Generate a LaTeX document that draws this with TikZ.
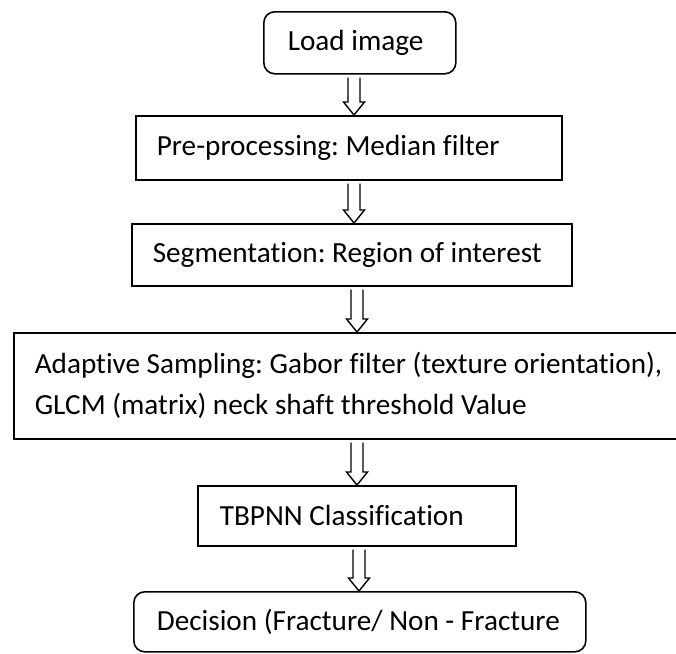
\documentclass[tikz,border=0pt]{standalone}
\usepackage{fontspec}
\setmainfont[Ligatures=NoCommon]{Carlito}
\usetikzlibrary{calc}
\frenchspacing
\begin{document}
\begin{tikzpicture}[x=1pt,y=-1pt,
  stepbox/.style={draw, line width=1.6pt, anchor=north west, inner ysep=0pt,
    font=\fontsize{29.2}{41}\selectfont},
  hollow/.style={draw, line width=1.4pt, fill=white, line join=miter}]
\clip (0,0) rectangle (676,653);
\fill[white] (0,0) rectangle (676,653);

% left-set text in a box of fixed inner width, never wrapped
\newcommand\inl[2]{\makebox[#1][l]{#2}}

\node[stepbox, rounded corners=11pt, inner xsep=24pt, minimum height=62pt]
  (load) at (263,11) {\inl{144pt}{Load image}};
\node[stepbox, inner xsep=21pt, minimum height=64pt]
  (pre) at (135,115) {\inl{384pt}{Pre-processing: Median filter}};
\node[stepbox, inner xsep=21pt, minimum height=62pt]
  (seg) at (131,223) {\inl{398pt}{Segmentation: Region of interest}};
\node[stepbox, inner xsep=21pt, minimum height=106pt]
  (ada) at (13,332) {\inl{638pt}{\begin{tabular}{@{}l@{}}
    Adaptive Sampling: Gabor filter (texture orientation),\\
    GLCM (matrix) neck shaft threshold Value\end{tabular}}};
\node[stepbox, inner xsep=22pt, minimum height=60pt]
  (cls) at (197,485) {\inl{274pt}{TBPNN Classification}};
\node[stepbox, rounded corners=11pt, inner xsep=23pt, minimum height=60pt]
  (dec) at (133,591) {\inl{406pt}{Decision (Fracture/ Non - Fracture}};

% hollow block arrow at x = #1, from just below box #2 down to the top of box #3
\newcommand\blockarrow[3]{%
  \coordinate (col) at (#1,0);
  \path[hollow] let \p1=(#2.south -| col), \p2=(#3.north -| col) in
    (\x1-6,\y1-3) -- (\x1-6,\y2+13) -- (\x1-10.5,\y2+13) -- (\x2,\y2)
    -- (\x1+10.5,\y2+13) -- (\x1+6,\y2+13) -- (\x1+6,\y1-3);}
\blockarrow{354}{load}{pre}
\blockarrow{354}{pre}{seg}
\blockarrow{357}{seg}{ada}
\blockarrow{357}{ada}{cls}
\blockarrow{359}{cls}{dec}
\end{tikzpicture}
\end{document}
